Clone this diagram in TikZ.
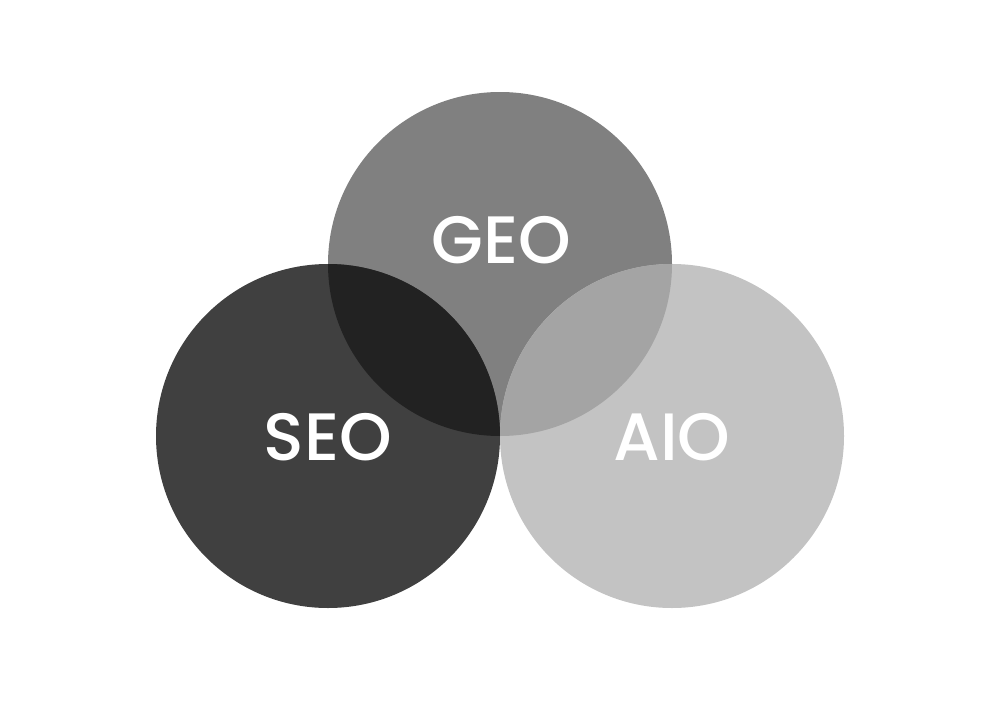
\documentclass[tikz,border=0pt]{standalone}
\usepackage{fontspec}
\setmainfont{Poppins}
\newfontfamily\lblfont{Poppins Medium}
\definecolor{seoC}{HTML}{404040}
\definecolor{geoC}{HTML}{808080}
\definecolor{aioC}{HTML}{C3C3C3}
\definecolor{sgC}{HTML}{222222}
\definecolor{gaC}{HTML}{A4A4A4}
\begin{document}
\begin{tikzpicture}[x=1pt,y=-1pt,
  lbl/.style={text=white,font=\lblfont\fontsize{67}{67}\selectfont,inner sep=0pt}]
\useasboundingbox (0,0) rectangle (1001,701);
\fill[white] (0,0) rectangle (1001,701);
\def\R{172}
\coordinate (g) at (500,264);
\coordinate (s) at (328,436);
\coordinate (a) at (672,436);
\fill[geoC] (g) circle (\R);
\fill[seoC] (s) circle (\R);
\fill[aioC] (a) circle (\R);
\begin{scope}
  \clip (g) circle (\R);
  \fill[sgC] (s) circle (\R);
  \fill[gaC] (a) circle (\R);
\end{scope}
\node[lbl] (geo) at (501,240) {GEO};
\node[lbl] (seo) at (328,437) {SEO};
\node[lbl] (aio) at (672,437) {AIO};
\end{tikzpicture}
\end{document}
